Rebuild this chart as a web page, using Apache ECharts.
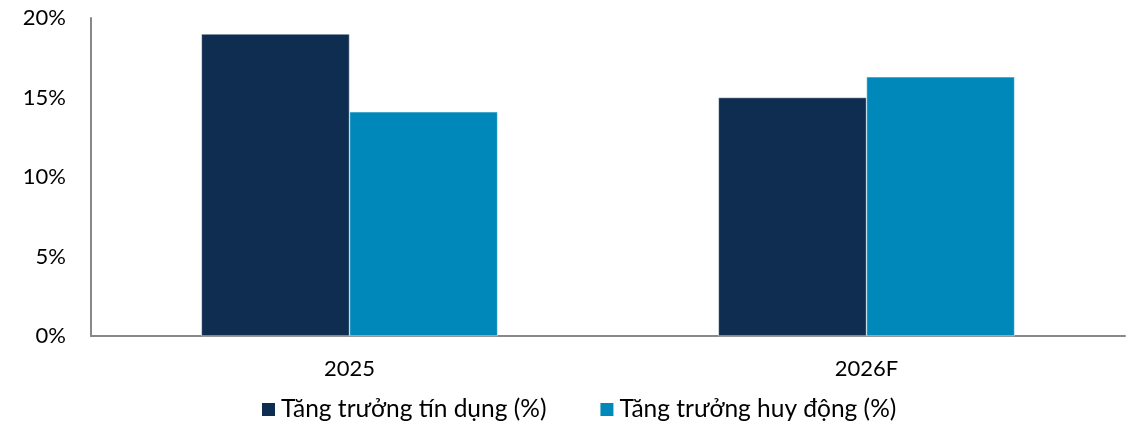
<!DOCTYPE html>
<html>
<head>
<meta charset="utf-8">
<script src="https://cdn.jsdelivr.net/npm/echarts@6/dist/echarts.min.js"></script>
<style>
  html, body { margin: 0; padding: 0; background: #fff; }
  #chart { width: 1134px; height: 424px; }
</style>
</head>
<body>
<div id="chart"></div>
<script>
var categories = ['2025', '2026F'];
var creditGrowth = [19.0, 15.0];
var depositGrowth = [14.1, 16.3];
var seriesNames = ['Tăng trưởng tín dụng (%)', 'Tăng trưởng huy động (%)'];
var yTicks = [0, 5, 10, 15, 20];

var chart = echarts.init(document.getElementById('chart'));

var font = 'Lato, "Open Sans", "Noto Sans", sans-serif';

var option = {
    animation: false,
    grid: {
        left: 91,
        right: 9,
        top: 18,
        bottom: 88
    },
    legend: {
        top: 392,
        left: 255,
        itemWidth: 15,
        itemHeight: 15,
        itemGap: 52,
        icon: 'rect',
        textStyle: { fontFamily: font, fontSize: 24.5, color: '#000' },
        data: seriesNames
    },
    xAxis: {
        type: 'category',
        data: categories,
        axisLine: { lineStyle: { color: '#888', width: 2 } },
        axisTick: { show: false },
        axisLabel: { fontFamily: font, fontSize: 22, color: '#000', margin: 22 }
    },
    yAxis: {
        type: 'value',
        min: yTicks[0],
        max: yTicks[yTicks.length - 1],
        interval: 5,
        axisLine: { show: true, lineStyle: { color: '#888', width: 2 } },
        axisTick: { show: false },
        splitLine: { show: false },
        axisLabel: {
            fontFamily: font, fontSize: 22, color: '#000', margin: 25,
            formatter: '{value}%'
        }
    },
    series: [
        {
            name: seriesNames[0],
            type: 'bar',
            data: creditGrowth,
            barGap: '0%',
            barCategoryGap: '42.7%',
            itemStyle: { color: '#0E2D50', borderColor: '#fff', borderWidth: 0.5 }
        },
        {
            name: seriesNames[1],
            type: 'bar',
            data: depositGrowth,
            itemStyle: { color: '#0088BB', borderColor: '#fff', borderWidth: 0.5 }
        }
    ]
};

chart.setOption(option);
</script>
</body>
</html>
